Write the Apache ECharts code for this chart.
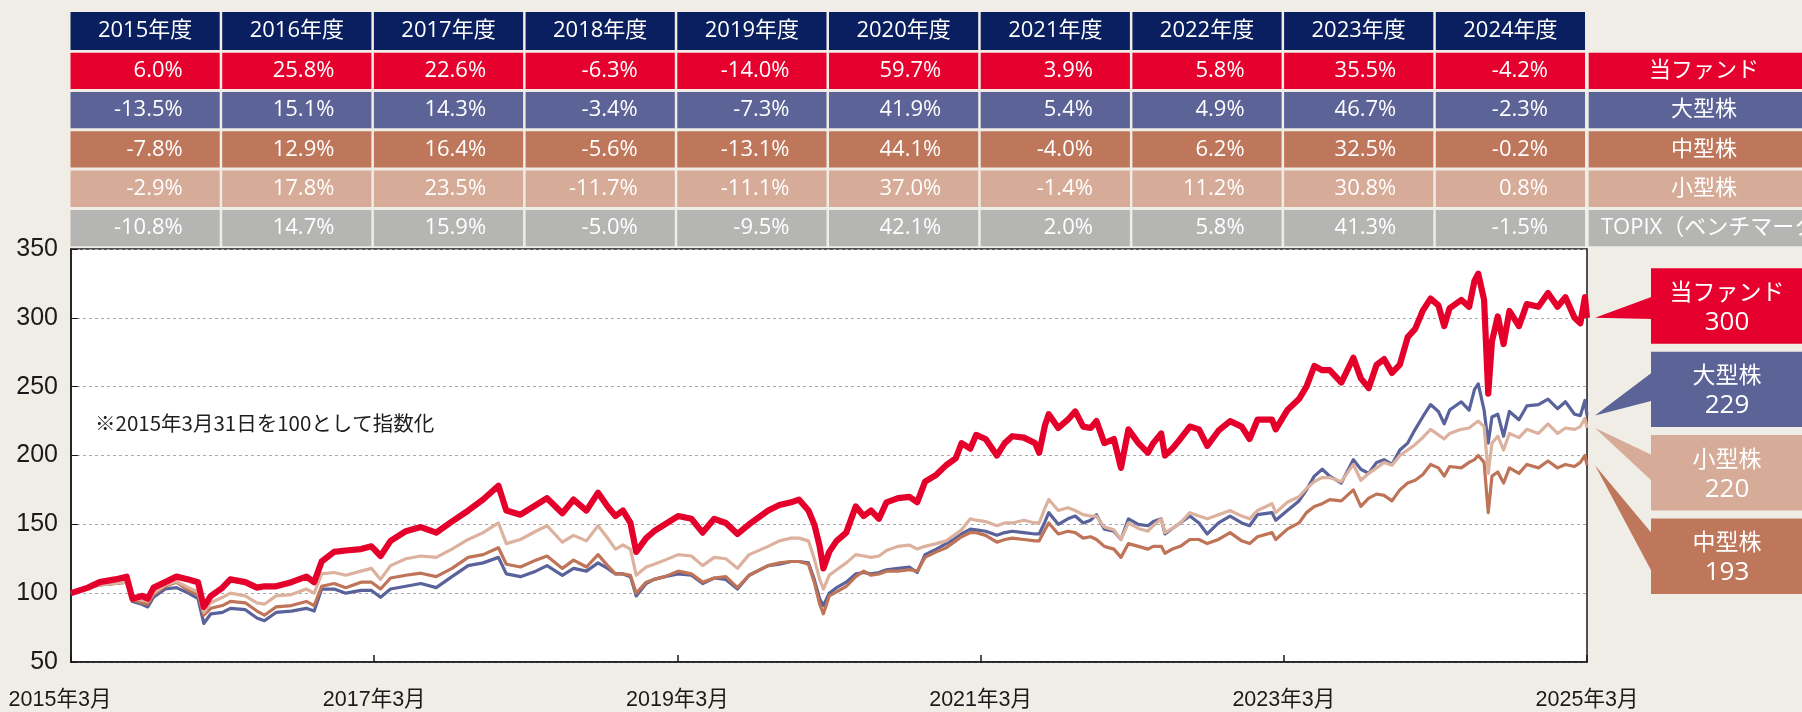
<!DOCTYPE html>
<html>
<head>
<meta charset="utf-8">
<script src="https://cdn.jsdelivr.net/npm/echarts@6/dist/echarts.min.js"></script>
<style>
  html, body { margin: 0; padding: 0; background: #f0ece6; }
  #chart { width: 1802px; height: 712px; }
</style>
</head>
<body>
<div id="chart"></div>
<script>
// --- data (index, 2015/3/31 = 100) ---
const dates = [
  '2015-03-31','2015-05-11','2015-06-08','2015-07-15','2015-08-12','2015-08-26','2015-09-18','2015-10-02','2015-10-16','2015-11-13',
  '2015-12-10','2016-01-08','2016-01-31','2016-02-14','2016-03-02','2016-03-30','2016-04-18','2016-05-24','2016-06-21','2016-07-09',
  '2016-08-06','2016-09-12','2016-10-18','2016-11-06','2016-11-24','2016-12-24','2017-01-21','2017-02-27','2017-03-24','2017-04-15',
  '2017-05-09','2017-06-15','2017-07-21','2017-08-27','2017-10-04','2017-11-12','2017-12-18','2018-01-24','2018-02-12','2018-03-18',
  '2018-04-24','2018-05-21','2018-06-27','2018-07-24','2018-08-24','2018-09-21',
  '2018-10-14','2018-11-02','2018-11-20','2018-12-08','2018-12-22','2019-01-15','2019-02-03','2019-03-01','2019-04-02','2019-05-04',
  '2019-05-31','2019-06-28','2019-07-26','2019-08-23','2019-09-20','2019-11-05','2019-12-02','2019-12-30','2020-01-18','2020-02-10',
  '2020-02-24','2020-03-08','2020-03-17','2020-03-31','2020-04-18','2020-05-11','2020-06-03','2020-06-22','2020-07-10','2020-07-29',
  '2020-08-16','2020-09-13','2020-10-10','2020-10-29','2020-11-17','2020-12-14','2021-01-07','2021-01-30','2021-02-13','2021-03-06',
  '2021-03-20','2021-04-12','2021-05-09','2021-05-28','2021-06-15','2021-07-13','2021-08-09','2021-08-19','2021-09-02','2021-09-11',
  '2021-10-04','2021-10-27','2021-11-14','2021-12-03','2021-12-21','2022-01-04','2022-01-23','2022-02-15','2022-03-04','2022-03-22',
  '2022-04-15','2022-05-08','2022-05-21','2022-06-09','2022-06-18','2022-07-06','2022-07-25','2022-08-17','2022-09-08',
  '2022-09-28','2022-10-25','2022-11-22','2022-12-20','2023-01-08','2023-01-27','2023-03-03','2023-03-12','2023-04-09','2023-05-07',
  '2023-05-25','2023-06-13','2023-07-02','2023-07-20','2023-08-17','2023-09-15','2023-10-03','2023-10-22','2023-11-10','2023-11-28',
  '2023-12-17','2024-01-05','2024-01-24','2024-02-11','2024-02-29','2024-03-19','2024-04-07','2024-04-21','2024-05-04','2024-06-01',
  '2024-06-20','2024-07-03','2024-07-12','2024-07-26','2024-08-05','2024-08-14','2024-08-28','2024-09-11','2024-09-25','2024-10-18',
  '2024-11-06','2024-12-04','2024-12-27','2025-01-19','2025-02-07','2025-03-01','2025-03-15','2025-03-26','2025-03-31'
];

const fund = [
  100,104,108,110,112,96,98,96,104,108, 112,110,108,90,98,104,110,108,104,105,
  105,108,112,108,123,130,131,132,134,127, 138,145,148,144,152,160,168,178,160,157,
  164,169,158,168,160,173,
  163,156,160,151,130,140,145,150,156,154, 144,154,151,143,150,160,164,166,168,160,
  150,134,118,130,138,144,163,156,160,154, 166,169,170,166,181,186,193,198,209,205,
  215,212,200,209,214,213,209,202,222,230, 220,226,232,221,220,225,209,212,191,219,
  209,202,209,216,200,205,212,221,219,
  207,218,225,221,212,226,226,219,233,241, 250,265,262,262,253,271,256,249,266,270,
  260,266,286,292,305,314,309,294,307,313, 308,327,332,313,245,283,301,281,305,294,
  310,308,318,308,315,300,296,315,300
];

const large = [
  100,104,106,107,108,94,92,90,97,103, 104,100,96,78,85,86,89,88,82,80,
  86,87,89,87,103,103,100,102,102,97, 103,105,107,104,112,120,122,126,114,112,
  116,120,113,118,116,122,
  118,114,114,112,98,107,110,112,114,113, 107,111,110,103,113,120,121,123,123,122,
  110,96,91,100,104,108,114,115,114,115, 117,118,119,115,128,132,136,140,143,146.5,
  146,145,142,144,145,144,143,143,152,158.5, 150,154,156,151,153,157,146.5,145,139,154,
  150,149,152,154,143,147,151,156,151,
  143,151,156,151,149,157,158.5,153,160,167, 175,185,190,185,180,197,190,187,195,197,
  193.5,204,209,219,228,237,232,223,233,239, 233,248,252,233,209,228,230,214,232,226,
  236,237,241,234,239,230,229,240,229
];

const mid = [
  100,104,106,107,108,95,93,92,99,105, 108,102,99,84,89,91,94,93,87,84,
  90,91,94,91,105,107,104,108,108,103, 111,113,114.5,112,118,126,128,133,121,119,
  124,127,118,124,119,128,
  120,114,114,113,100,108,110,112,116,114, 108,111,112,104,113,120,122,123,123,121,
  108,92,85,98,101,105,112,116,113,114, 116,116,117,116,126,130,133,138,141,144,
  144,142,137,139,140,139,138,138,146,151, 143,145,144,140,141,139,134,132,126,136,
  134,132,134,134,129,132,134,139,139,
  136,139,144,138,136,141,144,139,146.5,151, 158.5,163,165,168,167,175,163,169,172,171,
  167,175,180,182,186,193.5,191,185,192,191, 195,197,200,195,158.5,185,188,180,191,187,
  193.5,191,196,191,193.5,192,195,200,193
];

const small = [
  100,104,106,107,108,96,95,94,100,106, 108.5,104,101,86,93,97,100,98,93,92,
  98,99,103,100,114,115,113,116,118,110, 120,125,127,126,132,139,144,151,136,139,
  145,149,137,142,138,149,
  140,132,135,132,113,119,121,124,128,127, 120,126,125,118,128,134,138,140,140,138,
  125,110,103,113,117,122,128,127,126,127, 131,134,135,132,134,136,138,143,146,154,
  153,152,149,151,151,153,151,151,162,168, 160,162,160,157,156,156,148,146,139,151,
  147,145,149,154,144,147,151,158.5,156,
  154,157,160,156,154,160,165,158.5,166,170, 176,181,184,184,181,193.5,182,187,191,195,
  193,200,204,208,213,219,215,212,216,219, 220,223,225,221,187,209,214,204,216,213,
  219,216,223,216,220,219,221,227,220
];

// fiscal-year returns table
const fiscalYears = ['2015年度','2016年度','2017年度','2018年度','2019年度','2020年度','2021年度','2022年度','2023年度','2024年度'];
const fundReturns  = [6.0, 25.8, 22.6, -6.3, -14.0, 59.7, 3.9, 5.8, 35.5, -4.2];
const largeReturns = [-13.5, 15.1, 14.3, -3.4, -7.3, 41.9, 5.4, 4.9, 46.7, -2.3];
const midReturns   = [-7.8, 12.9, 16.4, -5.6, -13.1, 44.1, -4.0, 6.2, 32.5, -0.2];
const smallReturns = [-2.9, 17.8, 23.5, -11.7, -11.1, 37.0, -1.4, 11.2, 30.8, 0.8];
const topixReturns = [-10.8, 14.7, 15.9, -5.0, -9.5, 42.1, 2.0, 5.8, 41.3, -1.5];
const rowNames = ['当ファンド', '大型株', '中型株', '小型株', 'TOPIX（ベンチマーク）'];

// end-of-period labels
const calloutNames = ['当ファンド', '大型株', '小型株', '中型株'];
const calloutValues = [300, 229, 220, 193];

// x axis: 2015年3月 .. 2025年3月, a label every 2 years
const startDate = '2015-03-31';
const endDate = '2025-03-31';
const startYear = 2015;
const note = '※2015年3月31日を100として指数化';

// --- styling ---
const COLORS = {
  navy: '#0a1f5f', red: '#e5002d', blue: '#5b6397', brown: '#bf775b', light: '#d6ab97', gray: '#b5b6b4',
  lineRed: '#e4002b', lineBlue: '#59629a', lineBrown: '#bf7357', lineLight: '#dcb19d'
};
const TABLE_FONT = '"Open Sans", "Noto Sans CJK JP", sans-serif';
const AXIS_FONT = '"Liberation Sans", "Noto Sans CJK JP", sans-serif';

const chart = echarts.init(document.getElementById('chart'), null, { renderer: 'canvas' });
const ts = (d) => +new Date(d + 'T00:00:00Z');
const t0 = ts(startDate), t1 = ts(endDate);
// position on the axis in years since the start (end of range maps to exactly 10)
const yearsFromStart = (d) => (ts(d) - t0) / (t1 - t0) * 10;
const pairs = (vals) => dates.map((d, i) => [yearsFromStart(d), vals[i]]);

const lineSeries = (name, vals, color, width) => ({
  name,
  type: 'line',
  data: pairs(vals),
  showSymbol: false,
  symbol: 'none',
  lineStyle: { color, width, join: 'round' },
  itemStyle: { color },
  animation: false,
  silent: true
});

const xLabelStyle = { fontSize: 21.5, fontFamily: AXIS_FONT, color: '#1a1a1a' };

chart.setOption({
  backgroundColor: '#f0ece6',
  animation: false,
  grid: {
    left: 71, top: 249, width: 1516, height: 413,
    show: true, backgroundColor: '#ffffff', borderColor: '#1a1a1a', borderWidth: 1.5
  },
  xAxis: {
    type: 'value',
    min: 0, max: 10, interval: 2,
    axisLine: { show: true, lineStyle: { color: '#1a1a1a', width: 1.5 } },
    axisTick: { show: true, inside: true, length: 7, lineStyle: { color: '#1a1a1a', width: 1.5 } },
    axisLabel: {
      // first label sits a little left of its tick in the original
      formatter: (v) => v === 0 ? '{first|' + (startYear + v) + '年3月}' : (startYear + v) + '年3月',
      rich: { first: Object.assign({ padding: [0, 22, 0, 0] }, xLabelStyle) },
      margin: 27,
      ...xLabelStyle
    },
    splitLine: { show: false }
  },
  yAxis: {
    type: 'value',
    min: 50, max: 350, interval: 50,
    axisLine: { show: true, lineStyle: { color: '#1a1a1a', width: 1.5 } },
    axisTick: { show: true, inside: true, length: 7, lineStyle: { color: '#1a1a1a' } },
    axisLabel: { margin: 13, fontSize: 25, fontFamily: AXIS_FONT, color: '#1a1a1a' },
    splitLine: { show: true, lineStyle: { color: '#a9a9a9', type: [3, 3], width: 1 } }
  },
  series: [
    lineSeries('大型株', large, COLORS.lineBlue, 3.2),
    lineSeries('中型株', mid, COLORS.lineBrown, 3.2),
    lineSeries('小型株', small, COLORS.lineLight, 3.2),
    lineSeries('当ファンド', fund, COLORS.lineRed, 6.2)
  ]
});

// --- table, note and callouts as graphic elements ---
const graphics = [];
const tableX = 70.5, colPitch = 151.7, colW = 149.2;
const headTop = 12, headH = 38, rowTop0 = 52.7, rowPitch = 39.3, rowH = 36.3;
const labelX = 1588.7, labelW = 240, labelCenter = 1704;

const cellText = (x, y, text, align, size) => ({
  type: 'text', x, y, silent: true,
  style: { text, fill: '#ffffff', fontSize: size || 22, fontFamily: TABLE_FONT, align, verticalAlign: 'middle' }
});

fiscalYears.forEach((fy, i) => {
  const x = tableX + i * colPitch;
  graphics.push({ type: 'rect', silent: true, shape: { x, y: headTop, width: colW, height: headH }, style: { fill: COLORS.navy } });
  graphics.push(cellText(x + colW / 2, headTop + headH / 2, fy, 'center'));
});

const tableRows = [
  { values: fundReturns, color: COLORS.red },
  { values: largeReturns, color: COLORS.blue },
  { values: midReturns, color: COLORS.brown },
  { values: smallReturns, color: COLORS.light },
  { values: topixReturns, color: COLORS.gray }
];
tableRows.forEach((row, r) => {
  const top = rowTop0 + r * rowPitch;
  row.values.forEach((v, i) => {
    const x = tableX + i * colPitch;
    graphics.push({ type: 'rect', silent: true, shape: { x, y: top, width: colW, height: rowH }, style: { fill: row.color } });
    graphics.push(cellText(x + colW - 37, top + rowH / 2, v.toFixed(1) + '%', 'right'));
  });
  graphics.push({ type: 'rect', silent: true, shape: { x: labelX, y: top, width: labelW, height: rowH }, style: { fill: row.color } });
  // long benchmark label starts near the cell's left edge and runs past the page edge
  const longLabel = r === tableRows.length - 1;
  graphics.push(cellText(longLabel ? 1601 : labelCenter, top + rowH / 2, rowNames[r], longLabel ? 'left' : 'center'));
});

graphics.push({
  type: 'text', x: 95, y: 423, silent: true,
  style: { text: note, fill: '#1f1f1f', fontSize: 20.5, fontFamily: '"Noto Sans CJK JP", sans-serif', align: 'left', verticalAlign: 'middle' }
});

const calloutColors = [COLORS.red, COLORS.blue, COLORS.light, COLORS.brown];
const boxX = 1651, boxW = 160, boxH = 75.4, boxTop0 = 268.3, boxPitch = 83.4;
// where each pointer meets the box's left edge (offset from box top)
const wedgeBase = [[28.4, 50.7], [20.7, 49], [20, 46], [15, 53.4]];
const tipX = chart.convertToPixel({ xAxisIndex: 0 }, 10) + 8;

calloutNames.forEach((name, k) => {
  const top = boxTop0 + k * boxPitch;
  const tipY = chart.convertToPixel({ yAxisIndex: 0 }, calloutValues[k]);
  graphics.push({
    type: 'polygon', silent: true,
    shape: { points: [[tipX, tipY], [boxX + 1, top + wedgeBase[k][0]], [boxX + 1, top + wedgeBase[k][1]]] },
    style: { fill: calloutColors[k] }
  });
  graphics.push({ type: 'rect', silent: true, shape: { x: boxX, y: top, width: boxW, height: boxH }, style: { fill: calloutColors[k] } });
  graphics.push({
    type: 'text', x: 1727, y: top + 25, silent: true,
    style: { text: name, fill: '#ffffff', fontSize: 23, fontFamily: TABLE_FONT, align: 'center', verticalAlign: 'middle' }
  });
  graphics.push({
    type: 'text', x: 1727, y: top + 54, silent: true,
    style: { text: String(calloutValues[k]), fill: '#ffffff', fontSize: 26, fontFamily: TABLE_FONT, align: 'center', verticalAlign: 'middle' }
  });
});

chart.setOption({ graphic: { elements: graphics } });
</script>
</body>
</html>
